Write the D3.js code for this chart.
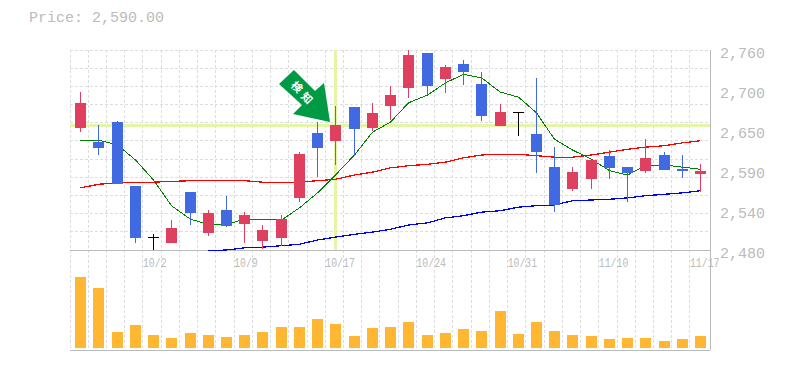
<!DOCTYPE html>
<html>
<head>
<meta charset="utf-8">
<script src="https://cdn.jsdelivr.net/npm/d3@7"></script>
<style>
    html, body { margin: 0; padding: 0; background: #fff; }
    svg { display: block; }
    text { font-family: "Liberation Mono", monospace; fill: #bbb; }
</style>
</head>
<body>
<div id="chart"></div>
<script>
const priceLabel = "Price: 2,590.00";
const dateLabels = {4: "10/2", 9: "10/9", 14: "10/17", 19: "10/24", 24: "10/31", 29: "11/10", 34: "11/17"};
const priceTicks = [2480, 2536, 2592, 2648, 2704, 2760];
const priceTickLabels = ["2,480", "2,540", "2,590", "2,650", "2,700", "2,760"];

const opens = [2651, 2631, 2659, 2570, 2498, 2490, 2561, 2504, 2536, 2516, 2493, 2497, 2553, 2644, 2633, 2680, 2651, 2682, 2707, 2756, 2719, 2740, 2712, 2654, 2673, 2642, 2596, 2565, 2579, 2612, 2596, 2591, 2613, 2593, 2586];
const highs = [2701, 2655, 2661, 2570, 2502, 2522, 2561, 2536, 2556, 2533, 2515, 2529, 2617, 2659, 2682, 2680, 2686, 2710, 2760, 2756, 2739, 2746, 2729, 2684, 2673, 2721, 2624, 2596, 2606, 2620, 2596, 2635, 2617, 2613, 2600];
const lows = [2645, 2613, 2572, 2490, 2480, 2490, 2515, 2500, 2512, 2490, 2481, 2486, 2547, 2582, 2599, 2612, 2647, 2662, 2693, 2697, 2700, 2711, 2661, 2654, 2640, 2588, 2533, 2563, 2565, 2579, 2547, 2588, 2592, 2581, 2561];
const closes = [2686, 2623, 2572, 2497, 2498, 2511, 2532, 2532, 2514, 2529, 2508, 2523, 2614, 2623, 2655, 2649, 2672, 2697, 2753, 2710, 2736, 2729, 2668, 2673, 2673, 2617, 2543, 2589, 2606, 2595, 2588, 2609, 2592, 2591, 2591];
const volumes = [71, 60, 16, 23, 13, 10, 15, 13, 11, 13, 16, 21, 21, 29, 24, 12, 20, 21, 26, 13, 15, 19, 17, 37, 14, 26, 17, 13, 12, 9, 10, 10, 7, 9, 12];

const maShort = [2633, 2634, 2627, 2606, 2578, 2542, 2523, 2516, 2516, 2523, 2523, 2522, 2539, 2560, 2585, 2613, 2645, 2659, 2686, 2697, 2714, 2726, 2721, 2701, 2694, 2672, 2635, 2620, 2607, 2591, 2585, 2598, 2599, 2596, 2593];
const maMid = [2567, 2572, 2574, 2575, 2575, 2576, 2577, 2577, 2577, 2577, 2575, 2574, 2575, 2577, 2579, 2585, 2589, 2595, 2598, 2600, 2603, 2609, 2613, 2614, 2614, 2612, 2610, 2610, 2613, 2617, 2621, 2624, 2626, 2630, 2633];
const maLong = [null, null, null, null, null, null, null, 2479, 2480, 2483, 2484, 2486, 2488, 2494, 2498, 2502, 2505, 2509, 2515, 2518, 2525, 2528, 2533, 2535, 2540, 2542, 2543, 2549, 2550, 2551, 2553, 2556, 2558, 2560, 2563];

const crossIndex = 14;
const crossPrice = 2655;

const upColor = "#e0405f";
const downColor = "#4169e1";
const flatColor = "#000";
const gridColor = "#ddd";
const axisColor = "#bbb";

const fullWidth = 785, fullHeight = 370;
const left = 71, right = 710;
const priceTop = 50, priceBottom = 250, volTop = 250, volBottom = 350;

const indexes = d3.range(opens.length);
const x = d3.scaleBand().domain(indexes).range([left, right - 0.8]).paddingInner(0).paddingOuter(0);
const y = d3.scaleLinear().domain([2480, 2760]).range([priceBottom, priceTop]);
const yVol = d3.scaleLinear().domain([0, 100]).range([volBottom - 2, volTop - 2]);
const cx = i => Math.round(x(i) + x.step() / 2);
const bodyW = 11;

const svg = d3.select("#chart").append("svg").attr("width", fullWidth).attr("height", fullHeight);
const crisp = g => g.attr("shape-rendering", "crispEdges");

svg.append("text").attr("x", 29).attr("y", 22).style("font-size", "15px").text(priceLabel);

// --- grid ---
const grid = svg.append("g").call(crisp).attr("stroke", gridColor).attr("stroke-dasharray", "3,2");
d3.range(0, 11).forEach(k => {
    const gy = Math.floor(y(2760 - k * 280 / 11)) + 0.5;
    grid.append("line").attr("x1", left - 1).attr("x2", right).attr("y1", gy).attr("y2", gy);
});
indexes.forEach(i => {
    const gx = Math.floor(x(i) - 1) + 0.5;
    grid.append("line").attr("x1", gx).attr("x2", gx).attr("y1", priceTop).attr("y2", volBottom);
});

// --- crosshair ---
const cross = svg.append("g").call(crisp).attr("stroke", "#e4f5a8").attr("stroke-width", 3);
cross.append("line").attr("x1", left - 1).attr("x2", right).attr("y1", y(crossPrice) + 0.5).attr("y2", y(crossPrice) + 0.5);
cross.append("line").attr("x1", cx(crossIndex) + 0.5).attr("x2", cx(crossIndex) + 0.5).attr("y1", priceTop).attr("y2", priceBottom);

// --- axes ---
const yAxis = d3.axisRight(y).tickValues(priceTicks).tickSize(0).tickPadding(10)
    .tickFormat((d, i) => priceTickLabels[i]);
svg.append("g").attr("transform", `translate(${right},0)`).call(yAxis)
    .call(g => g.select(".domain").remove())
    .call(g => g.selectAll("text").style("font-size", "15px").style("fill", "#bbb").style("font-family", null).attr("dy", "0.48em"));

const xAxis = d3.axisBottom(x).tickValues(Object.keys(dateLabels).map(Number)).tickSize(0).tickPadding(0)
    .tickFormat(d => dateLabels[d]);
svg.append("g").attr("transform", `translate(0,${priceBottom + 8})`).call(xAxis)
    .call(g => g.select(".domain").remove())
    .call(g => g.selectAll("text").style("font-size", "12px").style("fill", "#bbb").style("font-family", null)
        .attr("text-anchor", "start").attr("x", -x.step() / 2 - 1).attr("dy", "0.71em")
        .attr("textLength", d => dateLabels[d].length * 5.9).attr("lengthAdjust", "spacingAndGlyphs"));

const frame = svg.append("g").call(crisp).attr("stroke", axisColor);
frame.append("line").attr("x1", left - 1).attr("x2", right).attr("y1", priceBottom + 0.5).attr("y2", priceBottom + 0.5);
frame.append("line").attr("x1", left - 1).attr("x2", right).attr("y1", volBottom + 0.5).attr("y2", volBottom + 0.5);
frame.append("line").attr("x1", right + 0.5).attr("x2", right + 0.5).attr("y1", priceTop).attr("y2", volBottom);

// --- volume ---
svg.append("g").call(crisp).attr("fill", "#ffb733").selectAll("rect").data(volumes).join("rect")
    .attr("x", (d, i) => cx(i) - 5).attr("width", bodyW)
    .attr("y", d => yVol(d)).attr("height", d => yVol(0) - yVol(d));

// --- moving averages ---
const maLine = d3.line().defined(d => d !== null).x((d, i) => cx(i) + 0.5).y(d => y(d));
[[maShort, "#008000", 1], [maMid, "#f00", 1.25], [maLong, "#00f", 1.25]].forEach(([vals, color, w]) => {
    svg.append("path").datum(vals).call(crisp).attr("fill", "none").attr("stroke", color).attr("stroke-width", w).attr("d", maLine);
});

// --- candles ---
const candleColor = i => closes[i] > opens[i] ? upColor : closes[i] < opens[i] ? downColor : flatColor;
const candles = svg.append("g").call(crisp);
indexes.forEach(i => {
    const color = candleColor(i);
    candles.append("line").attr("x1", cx(i) + 0.5).attr("x2", cx(i) + 0.5).attr("y1", y(highs[i])).attr("y2", y(lows[i]))
        .attr("stroke", color);
    const top = y(Math.max(opens[i], closes[i])), bot = y(Math.min(opens[i], closes[i]));
    if (closes[i] === opens[i]) {
        candles.append("line").attr("x1", cx(i) - 5).attr("x2", cx(i) + 6).attr("y1", top).attr("y2", top).attr("stroke", color);
    } else {
        candles.append("rect").attr("x", cx(i) - 5).attr("width", bodyW).attr("y", top).attr("height", bot - top).attr("fill", color);
    }
});

// --- signal arrow, hung off the crosshair candle ---
const arrow = svg.append("g").attr("transform", `translate(${cx(crossIndex) - 5},${y(crossPrice) - 3})`);
arrow.append("polygon").attr("fill", "#009944")
    .attr("points", "0,0 -6,-39 -15,-31 -36,-52 -51,-38 -28,-17 -37,-8");
arrow.selectAll("text").data(["検", "知"]).join("text")
    .attr("transform", (d, i) => `translate(${-33 + i * 10},${-35 + i * 11}) rotate(45)`)
    .attr("text-anchor", "middle").attr("dy", "0.38em")
    .style("font-family", '"Noto Sans CJK JP"').style("font-size", "11px").style("font-weight", "700").style("fill", "#fff")
    .text(d => d);
</script>
</body>
</html>
